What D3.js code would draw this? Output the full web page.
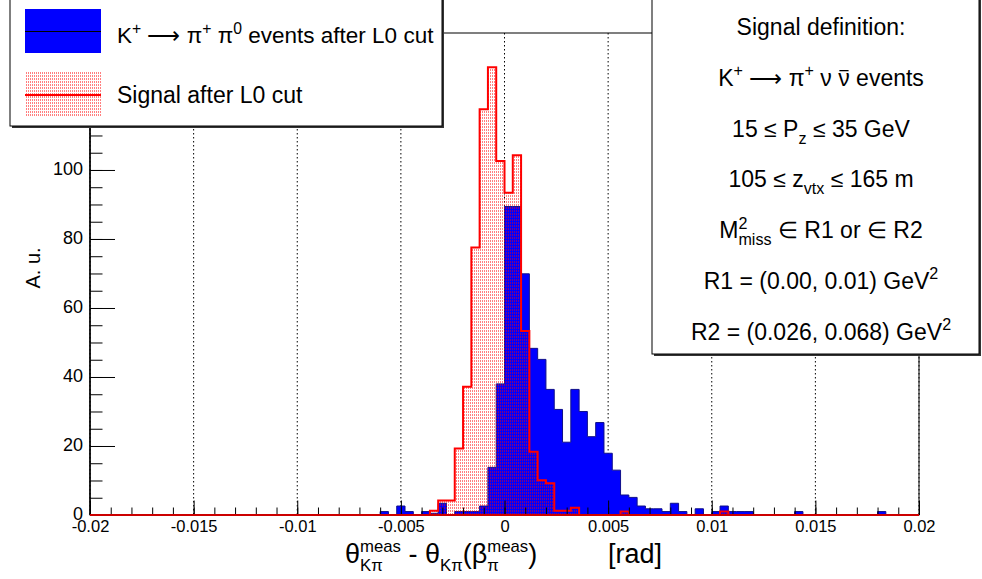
<!DOCTYPE html>
<html>
<head>
<meta charset="utf-8">
<script src="https://cdn.jsdelivr.net/npm/d3@7"></script>
<style>
  body { margin: 0; background: #fff; }
  svg text { font-family: "Liberation Sans", Arial, sans-serif; fill: #000; }
</style>
</head>
<body>
<div id="my_hist"></div>
<script>
// histogram binning: 100 bins from -0.02 to 0.02 rad
var xLo = -0.02, xHi = 0.02, nBins = 100;

// K+ -> pi+ pi0 after L0 cut (blue), one value per bin
var kpipi0 = [
  0, 0, 0, 0, 0, 0, 0, 0, 0, 0,
  0, 0, 0, 0, 0, 0, 0, 0, 0, 0,
  0, 0, 0, 0, 0, 0, 0, 0, 0, 0,
  0, 0, 0, 0, 0, 1, 0, 2.6, 1, 0,
  1, 0.5, 3.4, 0, 1, 1, 1, 2.6, 13.8, 38,
  89.4, 89.4, 69.9, 48.3, 45.1, 36.4, 30.6, 21.1, 36.4, 30,
  22.7, 26.8, 17.9, 13, 5.8, 5.1, 2.6, 1.8, 1.8, 1,
  3.4, 1, 0, 1.8, 0, 1, 2.6, 1, 1, 1,
  0, 0, 0, 0, 0, 1, 0, 0, 0, 0,
  0, 0, 0, 0, 0, 1, 0, 0, 0, 0
];

// signal after L0 cut (red hatched), one value per bin
var signal = [
  0, 0, 0, 0, 0, 0, 0, 0, 0, 0,
  0, 0, 0, 0, 0, 0, 0, 0, 0, 0,
  0, 0, 0, 0, 0, 0, 0, 0, 0, 0,
  0, 0, 0, 0, 0, 0, 0, 0, 0, 0,
  0, 1.2, 4.2, 4.2, 19.3, 37.2, 77.5, 117.6, 129.8, 102.6,
  93.4, 104.3, 53.3, 18.3, 10.1, 9.2, 1.2, 1.2, 2.1, 0,
  0, 0, 0, 0, 1, 0, 0, 0, 0, 0,
  0, 0, 0, 0, 0, 0, 1, 0, 0, 0,
  0, 0, 0, 0, 0, 0, 0, 0, 0, 0,
  0, 0, 0, 0, 0, 0, 0, 0, 0, 0
];

var xTicks = [-0.02, -0.015, -0.01, -0.005, 0, 0.005, 0.01, 0.015, 0.02];
var xTickLabels = ["-0.02", "-0.015", "-0.01", "-0.005", "0", "0.005", "0.01", "0.015", "0.02"];
var yTicks = [0, 20, 40, 60, 80, 100, 120];
var yMax = 139.7;

var W = 982, H = 579;
var frame = {left: 90, right: 919, top: 33, bottom: 515};

var svg = d3.select("#my_hist")
  .append("svg")
  .attr("width", W)
  .attr("height", H);

var defs = svg.append("defs");
// dotted fill pattern for the signal histogram
var pat = defs.append("pattern")
  .attr("id", "dots")
  .attr("patternUnits", "userSpaceOnUse")
  .attr("width", 2).attr("height", 3);
pat.append("rect").attr("x", 0).attr("y", 0).attr("width", 1).attr("height", 2)
  .attr("fill", "#ff0000").attr("fill-opacity", 0.5);

defs.append("clipPath").attr("id", "frameClip")
  .append("rect")
  .attr("x", frame.left).attr("y", frame.top)
  .attr("width", frame.right - frame.left).attr("height", frame.bottom - frame.top);

var x = d3.scaleLinear().domain([xLo, xHi]).range([frame.left, frame.right]);
var y = d3.scaleLinear().domain([0, yMax]).range([frame.bottom, frame.top]);

var edges = d3.range(nBins + 1).map(function(i){ return xLo + i * (xHi - xLo) / nBins });

function stepPoints(vals){
  var pts = [[edges[0], 0]];
  vals.forEach(function(v, i){
    pts.push([edges[i], v]);
    pts.push([edges[i + 1], v]);
  });
  pts.push([edges[nBins], 0]);
  return pts;
}

var line = d3.line().x(function(d){ return x(d[0]) }).y(function(d){ return y(Math.min(d[1], yMax)) });

// vertical dotted grid
svg.append("g")
  .selectAll("line")
  .data(xTicks)
  .enter()
  .append("line")
    .attr("x1", function(d){ return x(d) }).attr("x2", function(d){ return x(d) })
    .attr("y1", frame.top).attr("y2", frame.bottom)
    .attr("stroke", "#000")
    .attr("stroke-width", 1)
    .attr("stroke-dasharray", "1.5,2.5");

var hists = svg.append("g").attr("clip-path", "url(#frameClip)");

// background histogram
hists.append("path")
  .attr("d", line(stepPoints(kpipi0)) + "Z")
  .attr("fill", "#0000ff")
  .attr("stroke", "#10108a")
  .attr("stroke-width", 1);

// signal histogram
hists.append("path")
  .attr("d", line(stepPoints(signal)) + "Z")
  .attr("fill", "url(#dots)")
  .attr("stroke", "none");
hists.append("path")
  .attr("d", line(stepPoints(signal)))
  .attr("fill", "none")
  .attr("stroke", "#ff0000")
  .attr("stroke-width", 2);

// frame
svg.append("rect")
  .attr("x", frame.left).attr("y", frame.top)
  .attr("width", frame.right - frame.left).attr("height", frame.bottom - frame.top)
  .attr("fill", "none").attr("stroke", "#000").attr("stroke-width", 1);

// x axis: major + minor ticks pointing up
var xMinor = d3.range(-0.02, 0.02001, 0.001);
svg.append("g")
  .attr("transform", "translate(0," + frame.bottom + ")")
  .call(d3.axisBottom(x).tickValues(xMinor).tickSizeInner(-7.5).tickSizeOuter(0).tickFormat(""))
  .call(function(g){ g.select(".domain").remove() });
svg.append("g")
  .attr("transform", "translate(0," + frame.bottom + ")")
  .call(d3.axisBottom(x).tickValues(xTicks).tickSizeInner(-14.5).tickSizeOuter(0).tickPadding(5)
    .tickFormat(function(d, i){ return xTickLabels[i] }))
  .call(function(g){
    g.select(".domain").remove();
    g.selectAll("text").style("font-size", "16.5px").style("font-family", "'Liberation Sans', Arial, sans-serif").attr("fill", "#000");
  });

// y axis
var yMinor = d3.range(0, yMax, 5);
svg.append("g")
  .attr("transform", "translate(" + frame.left + ",0)")
  .call(d3.axisLeft(y).tickValues(yMinor).tickSizeInner(-12.5).tickSizeOuter(0).tickFormat(""))
  .call(function(g){ g.select(".domain").remove() });
svg.append("g")
  .attr("transform", "translate(" + frame.left + ",0)")
  .call(d3.axisLeft(y).tickValues(yTicks).tickSizeInner(-25).tickSizeOuter(0).tickPadding(7))
  .call(function(g){
    g.select(".domain").remove();
    g.selectAll("text").attr("dy", "0.26em")
      .style("font-size", "18px").style("font-family", "'Liberation Sans', Arial, sans-serif").attr("fill", "#000");
  });
svg.selectAll(".tick line").attr("stroke", "#000");

// axis lines on top
svg.append("line").attr("x1", frame.left).attr("x2", frame.left).attr("y1", frame.top).attr("y2", frame.bottom)
  .attr("stroke", "#000").attr("stroke-width", 1.5);
svg.append("line").attr("x1", frame.left).attr("x2", frame.right).attr("y1", frame.bottom).attr("y2", frame.bottom)
  .attr("stroke", "#cc0000").attr("stroke-width", 2);

// text with sub/superscripts, laid out piece by piece
function rich(parent, x0, y0, items, fs, anchor, small){
  small = small || 0.7;
  var g = parent.append("g");
  var cx = 0;
  function put(t, xx, yy, s){
    return g.append("text").attr("x", xx).attr("y", yy)
      .style("font-size", s + "px").style("white-space", "pre").text(t);
  }
  items.forEach(function(it){
    if (typeof it === "string"){
      cx += put(it, cx, 0, fs).node().getComputedTextLength();
      return;
    }
    if (it.t){
      var w = put(it.t, cx, 0, fs).node().getComputedTextLength();
      if (it.bar){
        g.append("line").attr("x1", cx + 0.1 * w).attr("x2", cx + 0.9 * w)
          .attr("y1", -0.66 * fs).attr("y2", -0.66 * fs)
          .attr("stroke", "#000").attr("stroke-width", 1.3);
      }
      cx += w;
    }
    var w2 = 0;
    if (it.sup) w2 = Math.max(w2, put(it.sup, cx, -0.42 * fs, fs * small).node().getComputedTextLength());
    if (it.sub) w2 = Math.max(w2, put(it.sub, cx, 0.3 * fs, fs * small).node().getComputedTextLength());
    cx += w2;
  });
  var off = anchor === "middle" ? -cx / 2 : 0;
  g.attr("transform", "translate(" + (x0 + off) + "," + y0 + ")");
  return g;
}

// axis titles
rich(svg, 345, 563, [
  {t: "θ", sub: "Kπ", sup: "meas"}, " - ", {t: "θ", sub: "Kπ"}, "(", {t: "β", sub: "π", sup: "meas"}, ")"
], 27, "start", 0.62);
svg.append("text").attr("x", 608).attr("y", 563).style("font-size", "27px").text("[rad]");

svg.append("text")
  .attr("transform", "translate(40,268) rotate(-90)")
  .attr("text-anchor", "middle")
  .style("font-size", "20px")
  .text("A. u.");

// legend box
svg.append("rect").attr("x", 12).attr("y", -2).attr("width", 432).attr("height", 130).attr("fill", "#333");
svg.append("rect").attr("x", 10).attr("y", -4).attr("width", 432).attr("height", 130)
  .attr("fill", "#fff").attr("stroke", "#000").attr("stroke-width", 1);
svg.append("rect").attr("x", 25).attr("y", 9).attr("width", 76).attr("height", 44).attr("fill", "#0000ff");
svg.append("line").attr("x1", 25).attr("x2", 101).attr("y1", 31.5).attr("y2", 31.5).attr("stroke", "#000").attr("stroke-width", 1);
svg.append("rect").attr("x", 25).attr("y", 72).attr("width", 76).attr("height", 45).attr("fill", "url(#dots)");
svg.append("line").attr("x1", 25).attr("x2", 101).attr("y1", 95).attr("y2", 95).attr("stroke", "#ff0000").attr("stroke-width", 2);
rich(svg, 117, 43, [{t: "K", sup: "+"}, " ⟶ ", {t: "π", sup: "+"}, " ", {t: "π", sup: "0"}, " events after L0 cut"], 22.5, "start");
rich(svg, 117, 103, ["Signal after L0 cut"], 23, "start");

// signal definition box
var statLines = [
  ["Signal definition:"],
  [{t: "K", sup: "+"}, " ⟶ ", {t: "π", sup: "+"}, " ν ", {t: "ν", bar: true}, " events"],
  ["15 ≤ ", {t: "P", sub: "z"}, " ≤ 35 GeV"],
  ["105 ≤ ", {t: "z", sub: "vtx"}, " ≤ 165 m"],
  [{t: "M", sup: "2", sub: "miss"}, " ∈ R1 or ∈ R2"],
  ["R1 = (0.00, 0.01) ", {t: "GeV", sup: "2"}],
  ["R2 = (0.026, 0.068) ", {t: "GeV", sup: "2"}]
];
svg.append("rect").attr("x", 654).attr("y", -2).attr("width", 327).attr("height", 358).attr("fill", "#333");
svg.append("rect").attr("x", 652).attr("y", -4).attr("width", 327).attr("height", 358)
  .attr("fill", "#fff").attr("stroke", "#000").attr("stroke-width", 1);
statLines.forEach(function(items, i){
  rich(svg, 821, 35 + i * 50.8, items, 23, "middle");
});
</script>
</body>
</html>
